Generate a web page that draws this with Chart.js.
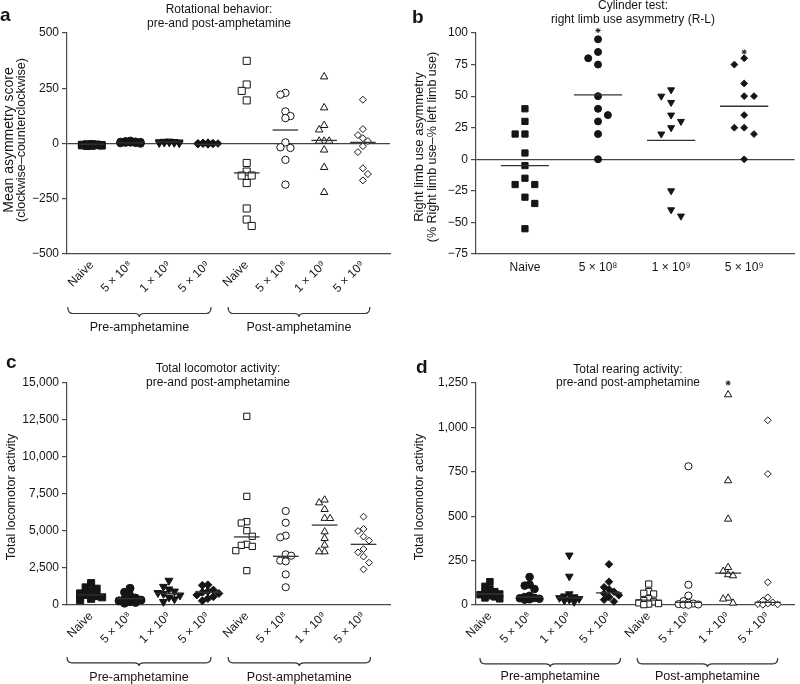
<!DOCTYPE html>
<html>
<head>
<meta charset="utf-8">
<script src="https://cdn.jsdelivr.net/npm/chart.js@4.4.1/dist/chart.umd.min.js"></script>
<style>
  body { margin: 0; background: #fff; }
  #wrap { position: relative; width: 800px; height: 684px; }
  canvas { position: absolute; }
</style>
</head>
<body>
<div id="wrap">
  <canvas id="pa" width="400" height="340" style="left:0;top:0"></canvas>
  <canvas id="pb" width="400" height="340" style="left:400px;top:0"></canvas>
  <canvas id="pc" width="400" height="344" style="left:0;top:340px"></canvas>
  <canvas id="pd" width="400" height="344" style="left:400px;top:340px"></canvas>
</div>
<script>
// Dose groups and the two phases
const doses = ['Naive', '5 × 10⁸', '1 × 10⁹', '5 × 10⁹'];
const phases = ['Pre-amphetamine', 'Post-amphetamine'];

// (a) rotational behaviour, one list per dose group
const rotPre = [
  [-3, -5, -8, -10, -12, -6, -4, -9, -11, -7, -2, -8],
  [12, 8, 5, 3, 6, 10, 2, 4, 7, 0],
  [10, 7, 5, 3, 8, 2, 6, 4, 9, 1],
  [4, 2, 0, -2, -4, 1, -1, 3, -3, 0]
];
const rotPost = [
  [374, 267, 238, 195, -88, -127, -145, -145, -179, -294, -344, -373],
  [229, 221, 145, 124, 115, 5, -17, -20, -74, -186],
  [302, 162, 82, 62, 11, 11, 11, -29, -108, -221],
  [198, 65, 38, 24, 11, -12, -39, -112, -138, -167]
];
const rotPreLine = [-3, 3, 7, -4];
const rotPostLine = [-133, 61, 14, 5];
const rotTicks = [-500, -250, 0, 250, 500];

// (b) cylinder test
const limb = [
  [40, 30, 20, 20, 5, -5, -15, -20, -20, -30, -35, -55],
  [95, 85, 80, 75, 50, 40, 35, 30, 20, 0],
  [55, 50, 45, 35, 30, 25, 20, -25, -40, -45],
  [80, 75, 60, 50, 50, 35, 25, 25, 20, 0]
];
const limbLine = [-5, 51, 15, 42];
const limbStars = [null, 102, null, 85];
const limbTicks = [-75, -50, -25, 0, 25, 50, 75, 100];

// (c) total locomotor activity
const locoPre = [
  [1480, 1190, 1100, 950, 780, 680, 600, 520, 420, 320],
  [1130, 860, 620, 470, 400, 330, 280, 220, 170, 120],
  [1650, 1240, 1060, 920, 820, 760, 650, 520, 400, 220],
  [1360, 1330, 1010, 920, 860, 780, 680, 560, 440, 280]
];
const locoPost = [
  [12750, 7340, 5630, 5540, 5020, 4640, 4100, 4030, 3960, 3670, 2320],
  [6350, 5560, 4690, 4570, 3420, 3330, 3000, 2950, 2070, 1200],
  [7100, 6910, 6460, 5860, 5850, 4950, 4500, 4050, 3600, 3600],
  [5970, 5140, 5000, 4620, 4350, 3780, 3560, 3270, 2860, 2410]
];
const locoPreLine = [680, 430, 790, 860];
const locoPostLine = [4600, 3290, 5400, 4100];
const locoTicks = [0, 2500, 5000, 7500, 10000, 12500, 15000];

// (d) total rearing activity
const rearPre = [
  [131, 105, 90, 75, 68, 62, 58, 52, 46, 40, 35],
  [158, 115, 109, 90, 52, 45, 40, 38, 35, 32, 30],
  [280, 161, 62, 50, 45, 40, 35, 30, 25, 18],
  [229, 131, 100, 88, 75, 65, 55, 45, 30, 20]
];
const rearPost = [
  [118, 75, 66, 62, 35, 25, 18, 12, 8, 5, 2],
  [781, 114, 53, 22, 12, 8, 5, 3, 2, 1],
  [1184, 700, 484, 212, 190, 171, 165, 39, 34, 11],
  [1040, 738, 128, 43, 25, 15, 8, 5, 3, 1]
];
const rearPreLine = [62, 45, 40, 68];
const rearPostLine = [28, 15, 180, 15];
const rearStars = [null, null, 1250, null];
const rearTicks = [0, 250, 500, 750, 1000, 1250];

const INK = '#151515';
const AXIS = '#4a4a4a';
const FONT = "'Liberation Sans', Arial, Helvetica, sans-serif";
const shapes = ['rect', 'circle', 'triangle', 'rectRot'];

const fmt = v => (v < 0 ? '−' : '') + Math.abs(v).toLocaleString('en-US');

// spread overlapping points sideways in columns (like a dot plot)
function swarm(vals, cat, pxX, pxY, sw) {
  const cols = {};
  let side = -1;
  return vals.slice().sort((p, q) => q - p).map(v => {
    const y = v * pxY;
    const gap = k => Math.min(Infinity, ...(cols[k] || []).map(u => Math.abs(u - y)));
    let k = 0;
    if (gap(0) < sw.h) {
      const cand = [];
      for (let j = 1; j <= sw.maxK; j++) cand.push(side * j, -side * j);
      k = cand.find(c => gap(c) >= sw.h);
      if (k === undefined) k = [0, ...cand].reduce((b, c) => gap(c) > gap(b) ? c : b);
      side = -side;
    }
    (cols[k] = cols[k] || []).push(y);
    return { x: cat + k * sw.step / pxX, y: v };
  });
}

function drawBrace(ctx, x1, x2, yT, yB) {
  const cx = (x1 + x2) / 2, ym = yT + (yB - yT) * 0.65, r = 5;
  ctx.beginPath();
  ctx.moveTo(x1, yT);
  ctx.quadraticCurveTo(x1, ym, x1 + r, ym);
  ctx.lineTo(cx - r, ym);
  ctx.quadraticCurveTo(cx, ym, cx, yB);
  ctx.quadraticCurveTo(cx, ym, cx + r, ym);
  ctx.lineTo(x2 - r, ym);
  ctx.quadraticCurveTo(x2, ym, x2, yT);
  ctx.stroke();
}

const deco = {
  id: 'deco',
  afterDraw(chart, args, o) {
    const ctx = chart.ctx;
    ctx.save();
    ctx.fillStyle = INK;
    ctx.strokeStyle = '#333';
    ctx.font = 'bold 19px ' + FONT;
    ctx.textAlign = 'left';
    ctx.textBaseline = 'alphabetic';
    ctx.fillText(o.letter, o.letterX, o.letterY);
    ctx.font = '12px ' + FONT;
    ctx.textAlign = 'center';
    ctx.textBaseline = 'middle';
    o.title.forEach((t, i) => ctx.fillText(t, o.titleX, o.titleY[i]));
    o.yTitle.forEach((t, i) => {
      ctx.font = o.yTitleSize[i] + 'px ' + FONT;
      ctx.save();
      ctx.translate(o.yTitleX[i], o.yTitleY);
      ctx.rotate(-Math.PI / 2);
      ctx.fillText(t, 0, 0);
      ctx.restore();
    });
    if (o.braces) {
      const xs = chart.scales.x;
      ctx.lineWidth = 1.2;
      ctx.font = '12.5px ' + FONT;
      o.braces.forEach((b, i) => {
        const x1 = xs.getPixelForValue(b[0]), x2 = xs.getPixelForValue(b[1]);
        drawBrace(ctx, x1, x2, o.braceTop, o.braceBot);
        ctx.fillText(phases[i], (x1 + x2) / 2, o.braceText);
      });
    }
    ctx.restore();
  }
};

function buildPanel(id, g, groups, xLabels, yTicks, dec) {
  const pxX = (g.right - g.left) / (g.xMax - g.xMin);
  const pxY = (g.bottom - g.top) / (g.yMax - g.yMin);
  const datasets = [];
  groups.forEach((gr, i) => {
    datasets.push({
      type: 'line', order: 0,
      data: [{ x: i - 0.33, y: gr.line }, { x: i + 0.33, y: gr.line }],
      borderColor: '#333', borderWidth: 1.3, pointRadius: 0
    });
    datasets.push({
      type: 'scatter', order: 1, clip: false,
      data: swarm(gr.vals, i, pxX, pxY, g.sw),
      pointStyle: shapes[gr.shape],
      pointRotation: gr.filled && gr.shape === 2 ? 180 : 0,
      pointRadius: gr.r,
      pointBackgroundColor: gr.filled ? INK : '#fff',
      pointBorderColor: INK,
      pointBorderWidth: 1
    });
    if (gr.star != null) {
      datasets.push({
        type: 'scatter', order: 0, clip: false,
        data: [{ x: i, y: gr.star }],
        pointStyle: 'star', pointRadius: 2.6,
        pointBorderColor: INK, pointBorderWidth: 1
      });
    }
  });

  new Chart(document.getElementById(id), {
    type: 'scatter',
    data: { datasets },
    plugins: [deco],
    options: {
      responsive: false,
      animation: false,
      events: [],
      layout: { padding: { top: g.top, right: g.w - g.right, left: 0, bottom: 0 } },
      plugins: { legend: { display: false }, tooltip: { enabled: false }, deco: dec },
      scales: {
        x: {
          type: 'linear', min: g.xMin, max: g.xMax,
          afterBuildTicks: s => { s.ticks = xLabels.map((_, i) => ({ value: i })); },
          afterFit: s => { s.height = g.h - g.bottom; },
          grid: { display: false, drawTicks: false },
          border: { color: AXIS, width: 1.2 },
          ticks: {
            autoSkip: false, minRotation: g.rot, maxRotation: g.rot, padding: g.xPad,
            color: INK, font: { family: FONT, size: 12 },
            callback: v => xLabels[v]
          }
        },
        y: {
          type: 'linear', min: g.yMin, max: g.yMax,
          afterBuildTicks: s => { s.ticks = yTicks.map(v => ({ value: v })); },
          afterFit: s => { s.width = g.left; },
          grid: {
            drawOnChartArea: g.zero,
            color: c => (c.tick && c.tick.value === 0 ? '#444' : 'rgba(0,0,0,0)'),
            lineWidth: 1.2, tickColor: AXIS, tickLength: 5, tickWidth: 1.2
          },
          border: { color: AXIS, width: 1.2 },
          ticks: { padding: 3, color: INK, font: { family: FONT, size: 12 }, callback: v => fmt(v) }
        }
      }
    }
  });
}

function twoPhase(pre, preLine, post, postLine, preR, postR, stars) {
  const out = [];
  pre.forEach((v, i) => out.push({ vals: v, line: preLine[i], shape: i, filled: true, r: preR[i] }));
  post.forEach((v, i) => out.push({ vals: v, line: postLine[i], shape: i, filled: false, r: postR[i], star: stars ? stars[i] : null }));
  return out;
}

const xTwo = doses.concat(doses);

buildPanel('pa',
  { w: 400, h: 340, left: 67, right: 390, top: 33, bottom: 254, xMin: -0.64, xMax: 7.70,
    yMin: -500, yMax: 500, xPad: 4, rot: 45, zero: true, sw: { step: 5, h: 6.5, maxK: 2 } },
  twoPhase(rotPre, rotPreLine, rotPost, rotPostLine, [4.8, 3.8, 4.4, 3.8], [5, 3.7, 4.3, 3.5]),
  xTwo, rotTicks,
  { letter: 'a', letterX: 0, letterY: 21, title: ['Rotational behavior:', 'pre-and post-amphetamine'],
    titleX: 219, titleY: [10, 24], yTitle: ['Mean asymmetry score', '(clockwise–counterclockwise)'],
    yTitleSize: [14, 12.5], yTitleX: [9, 22], yTitleY: 140, braces: [[-0.62, 3.08], [3.52, 7.18]],
    braceTop: 307, braceBot: 317, braceText: 328 });

buildPanel('pb',
  { w: 400, h: 340, left: 76, right: 400, top: 33, bottom: 254, xMin: -0.67, xMax: 3.69,
    yMin: -75, yMax: 100, xPad: 6, rot: 0, zero: true, sw: { step: 10, h: 9, maxK: 2 } },
  limb.map((v, i) => ({ vals: v, line: limbLine[i], shape: i, filled: true,
    r: [4.4, 3.5, 4, 3.4][i], star: limbStars[i] })),
  doses, limbTicks,
  { letter: 'b', letterX: 12, letterY: 23, title: ['Cylinder test:', 'right limb use asymmetry (R-L)'],
    titleX: 233, titleY: [6, 20], yTitle: ['Right limb use asymmetry', '(% Right limb use–% left limb use)'],
    yTitleSize: [13, 12.5], yTitleX: [19, 33], yTitleY: 147 });

buildPanel('pc',
  { w: 400, h: 344, left: 67, right: 390, top: 43, bottom: 265, xMin: -0.62, xMax: 7.68,
    yMin: 0, yMax: 15000, xPad: 4, rot: 45, zero: false, sw: { step: 5.5, h: 6.5, maxK: 2 } },
  twoPhase(locoPre, locoPreLine, locoPost, locoPostLine, [5, 4, 4.6, 4], [4.4, 3.6, 4.2, 3.4]),
  xTwo, locoTicks,
  { letter: 'c', letterX: 6, letterY: 28, title: ['Total locomotor activity:', 'pre-and post-amphetamine'],
    titleX: 218, titleY: [29, 43], yTitle: ['Total locomotor activity'],
    yTitleSize: [12.5], yTitleX: [12], yTitleY: 157, braces: [[-0.62, 3.08], [3.52, 7.18]],
    braceTop: 317, braceBot: 326, braceText: 338 });

buildPanel('pd',
  { w: 400, h: 344, left: 76, right: 400, top: 43, bottom: 265, xMin: -0.35, xMax: 7.67,
    yMin: 0, yMax: 1250, xPad: 4, rot: 45, zero: false, sw: { step: 5, h: 6, maxK: 2 } },
  twoPhase(rearPre, rearPreLine, rearPost, rearPostLine, [4.6, 3.8, 4.4, 3.8], [4.4, 3.6, 4.2, 3.4], rearStars),
  xTwo, rearTicks,
  { letter: 'd', letterX: 16, letterY: 33, title: ['Total rearing activity:', 'pre-and post-amphetamine'],
    titleX: 228, titleY: [30, 43], yTitle: ['Total locomotor activity'],
    yTitleSize: [12.5], yTitleX: [20], yTitleY: 157, braces: [[-0.25, 3.29], [3.71, 7.25]],
    braceTop: 318, braceBot: 327, braceText: 337 });
</script>
</body>
</html>
